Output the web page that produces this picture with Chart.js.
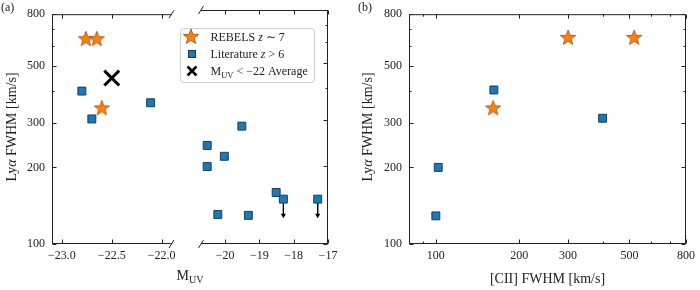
<!DOCTYPE html>
<html lang="en">
<head>
<meta charset="utf-8">
<title>Lya FWHM vs M_UV and [CII] FWHM</title>
<script src="https://cdn.jsdelivr.net/npm/chart.js@4.4.1/dist/chart.umd.min.js"></script>
<style>
    body { margin: 0; background: #fff; }
    #figure { position: relative; width: 700px; height: 290px; overflow: hidden; }
    #figure canvas { position: absolute; top: 0; }
</style>
</head>
<body>
<div id="figure">
    <canvas id="panelA1" width="185" height="290" style="left:0"></canvas>
    <canvas id="panelA2" width="180" height="290" style="left:170px"></canvas>
    <canvas id="panelB" width="350" height="290" style="left:350px"></canvas>
</div>
<script>
// ========================
// Data
// ========================

// (a) Lya FWHM vs M_UV
const rebelsMuv = [-22.76, -22.65, -22.60];
const rebelsLyaA = [638, 638, 341];
const averageMuv = [-22.50];
const averageLya = [449];
const litMuv = [-22.80, -22.70, -22.11, -20.52, -20.52, -20.02, -20.21, -19.51, -19.32, -18.51];
const litLyaA = [399, 310, 359, 240, 199, 218, 130, 285, 129, 158];
const upperMuv = [-18.30, -17.30];
const upperLya = [149, 149];
const upperArrowTo = [129, 129];

// (b) Lya FWHM vs [CII] FWHM
const rebelsCii = [161, 300, 520];
const rebelsLyaB = [341, 645, 645];
const litCii = [100, 102, 162, 400];
const litLyaB = [129, 200, 403, 312];

// axis ticks
const lyaTicks = [100, 200, 300, 500, 800];
const lyaMinorTicks = [400, 600, 700];
const muvTicksBright = [-23.0, -22.5, -22.0];
const muvTicksFaint = [-20, -19, -18, -17];
const ciiTicks = [100, 200, 300, 500, 800];
const ciiMinorTicks = [90, 400, 600, 700];

// ========================
// Helpers
// ========================
const SERIF = "'Liberation Serif', 'Times New Roman', serif";
const INK = '#222222';
const ORANGE = '#ff7f0e';
const BLUE = '#1f77b4';
const BLUE_EDGE = '#163f5f';

Chart.defaults.font.family = SERIF;
Chart.defaults.color = INK;

const tickFont = { family: SERIF, size: 12 };
const pairs = (xs, ys) => xs.map((x, i) => ({ x: x, y: ys[i] }));
const inRange = (pts, lo, hi) => pts.filter(p => p.x >= lo && p.x <= hi);
const minus = (v, d) => (v < 0 ? '\u2212' : '') + Math.abs(v).toFixed(d);

// filled five-point star, used as pointStyle
function starMarker(size) {
    const c = document.createElement('canvas');
    c.width = c.height = size;
    const ctx = c.getContext('2d');
    const r = size / 2 - 1, ri = r * 0.42, cx = size / 2, cy = size / 2;
    ctx.beginPath();
    for (let i = 0; i < 10; i++) {
        const ang = -Math.PI / 2 + i * Math.PI / 5;
        const rr = i % 2 ? ri : r;
        ctx.lineTo(cx + rr * Math.cos(ang), cy + rr * Math.sin(ang));
    }
    ctx.closePath();
    ctx.fillStyle = ORANGE;
    ctx.fill();
    ctx.strokeStyle = '#9a4f0c';
    ctx.lineWidth = 0.8;
    ctx.stroke();
    return c;
}
const starImg = starMarker(18);

function setFont(ctx, size, italic) {
    ctx.font = (italic ? 'italic ' : '') + size + 'px ' + SERIF;
}

// text pieces: [text, size, italic, dy]
function drawRuns(ctx, x, y, runs, center) {
    const widths = runs.map(r => { setFont(ctx, r[1], r[2]); return ctx.measureText(r[0]).width; });
    let cx = center ? x - widths.reduce((a, b) => a + b, 0) / 2 : x;
    ctx.textAlign = 'left';
    ctx.textBaseline = 'alphabetic';
    runs.forEach((r, i) => {
        setFont(ctx, r[1], r[2]);
        ctx.fillText(r[0], cx, y + (r[3] || 0));
        cx += widths[i];
    });
}

const lyaTitle = [['Ly', 14], ['\u03b1', 14, true], [' FWHM [km/s]', 14]];

// spines, inward ticks and axis break marks
function frame(cfg) {
    return {
        id: 'frame',
        afterDatasetsDraw(chart) {
            const { ctx, chartArea: a } = chart;
            const xs = chart.scales.x, ys = chart.scales.y;
            const L = a.left + 0.5, R = a.right - 0.5, T = a.top + 0.5, B = a.bottom - 0.5;
            ctx.save();
            ctx.strokeStyle = INK;
            ctx.lineWidth = 1;
            ctx.beginPath();
            if (cfg.spines.includes('left')) { ctx.moveTo(L, T); ctx.lineTo(L, B); }
            if (cfg.spines.includes('right')) { ctx.moveTo(R, T); ctx.lineTo(R, B); }
            if (cfg.spines.includes('top')) { ctx.moveTo(a.left, T); ctx.lineTo(a.right, T); }
            if (cfg.spines.includes('bottom')) { ctx.moveTo(a.left, B); ctx.lineTo(a.right, B); }

            const tick = (side, p, len) => {
                if (side === 'bottom') { ctx.moveTo(p, B); ctx.lineTo(p, B - len); }
                if (side === 'top') { ctx.moveTo(p, T); ctx.lineTo(p, T + len); }
                if (side === 'left') { ctx.moveTo(L, p); ctx.lineTo(L + len, p); }
                if (side === 'right') { ctx.moveTo(R, p); ctx.lineTo(R - len, p); }
            };
            cfg.spines.forEach(side => {
                const horiz = side === 'top' || side === 'bottom';
                const scale = horiz ? xs : ys;
                const major = horiz ? cfg.xMajor : cfg.yMajor;
                const minor = (horiz ? cfg.xMinor : cfg.yMinor) || [];
                const px = v => Math.round(scale.getPixelForValue(v)) + 0.5;
                major.forEach(v => tick(side, px(v), 4));
                minor.forEach(v => tick(side, px(v), 2));
            });

            if (cfg.breakSide) {
                const bx = cfg.breakSide === 'right' ? a.right : a.left;
                [a.top, a.bottom].forEach(by => {
                    ctx.moveTo(bx - 2.5, by + 4);
                    ctx.lineTo(bx + 2.5, by - 4);
                });
            }
            ctx.stroke();
            ctx.restore();
        }
    };
}

function xLinear(min, max, ticks, digits) {
    return {
        type: 'linear', min: min, max: max,
        grid: { display: false, drawTicks: false },
        border: { display: false },
        afterBuildTicks: s => { s.ticks = ticks.map(v => ({ value: v })); },
        afterFit: s => { s.height = 46; },
        ticks: { font: tickFont, color: INK, padding: 5, maxRotation: 0, autoSkip: false,
                 callback: v => minus(v, digits) }
    };
}

function logAxis(min, max, ticks, horizontal, width) {
    return {
        type: 'logarithmic', min: min, max: max, bounds: 'data',
        display: width !== 0,
        grid: { display: false, drawTicks: false },
        border: { display: false },
        afterBuildTicks: s => { s.ticks = ticks.map(v => ({ value: v })); },
        afterFit: s => {
            if (horizontal) s.height = 46;
            else if (width) s.width = width;
        },
        ticks: { font: tickFont, color: INK, padding: horizontal ? 5 : 7, maxRotation: 0,
                 autoSkip: false, callback: v => String(v) }
    };
}

function baseOptions(x, y, padding) {
    return {
        responsive: false,
        animation: false,
        events: [],
        layout: { padding: padding },
        plugins: { legend: { display: false }, tooltip: { enabled: false } },
        scales: { x: x, y: y }
    };
}

const starSet = data => ({ data: data, pointStyle: starImg, pointRadius: 8 });
const squareSet = data => ({
    data: data, pointStyle: 'rect', pointRadius: 5.6,
    backgroundColor: BLUE, borderColor: BLUE_EDGE, borderWidth: 1
});
const arrowSets = () => upperMuv.map((x, i) => ({
    data: [{ x: x, y: upperLya[i] }, { x: x, y: upperArrowTo[i] }],
    showLine: true,
    borderColor: '#000', borderWidth: 1,
    backgroundColor: '#000',
    pointStyle: 'triangle', pointRotation: 180,
    pointRadius: [0, 3], pointBorderWidth: 0
}));

// ========================
// Panel (a), bright side
// ========================
const brightMin = -23.1, brightMax = -21.9;
new Chart(document.getElementById('panelA1'), {
    type: 'scatter',
    data: {
        datasets: [
            starSet(pairs(rebelsMuv, rebelsLyaA)),
            {
                data: pairs(averageMuv, averageLya),
                pointStyle: 'crossRot', pointRadius: 10.5,
                borderColor: '#000', borderWidth: 3
            },
            squareSet(inRange(pairs(litMuv, litLyaA), brightMin, brightMax))
        ]
    },
    options: baseOptions(
        xLinear(brightMin, brightMax, muvTicksBright, 1),
        logAxis(100, 800, lyaTicks, false, 52),
        { left: 0, right: 7, top: 10, bottom: 0 }
    ),
    plugins: [
        frame({ spines: ['left', 'top', 'bottom'], breakSide: 'right',
                xMajor: muvTicksBright, yMajor: lyaTicks, yMinor: lyaMinorTicks }),
        {
            id: 'textA1',
            afterDraw(chart) {
                const ctx = chart.ctx;
                ctx.save();
                ctx.fillStyle = INK;
                drawRuns(ctx, 1, 11, [['(a)', 12]]);
                ctx.translate(15.5, 127);
                ctx.rotate(-Math.PI / 2);
                drawRuns(ctx, 0, 0, lyaTitle, true);
                ctx.restore();
            }
        }
    ]
});

// ========================
// Panel (a), faint side
// ========================
const faintMin = -20.7, faintMax = -17;
new Chart(document.getElementById('panelA2'), {
    type: 'scatter',
    data: {
        datasets: [
            squareSet(inRange(pairs(litMuv, litLyaA), faintMin, faintMax)
                .concat(pairs(upperMuv, upperLya))),
            ...arrowSets()
        ]
    },
    options: baseOptions(
        xLinear(faintMin, faintMax, muvTicksFaint, 0),
        logAxis(100, 800, lyaTicks, false, 0),
        { left: 31, right: 22, top: 10, bottom: 0 }
    ),
    plugins: [
        frame({ spines: ['right', 'top', 'bottom'], breakSide: 'left',
                xMajor: muvTicksFaint, yMajor: lyaTicks, yMinor: lyaMinorTicks }),
        {
            id: 'textA2',
            afterDraw(chart) {
                const ctx = chart.ctx;
                ctx.save();
                ctx.fillStyle = INK;
                // x title
                drawRuns(ctx, 20, 280, [['M', 14], ['UV', 10, false, 3]], true);

                // legend
                ctx.beginPath();
                ctx.roundRect(10.5, 28.5, 134, 54, 3);
                ctx.fillStyle = 'rgba(255,255,255,0.8)';
                ctx.fill();
                ctx.strokeStyle = '#d0d0d0';
                ctx.lineWidth = 1;
                ctx.stroke();

                ctx.drawImage(starImg, 21 - 9, 37 - 9);
                ctx.fillStyle = BLUE;
                ctx.fillRect(18.5, 50.5, 7, 7);
                ctx.strokeStyle = BLUE_EDGE;
                ctx.strokeRect(18.5, 50.5, 7, 7);
                ctx.beginPath();
                ctx.strokeStyle = '#000';
                ctx.lineWidth = 2.6;
                ctx.moveTo(17.5, 66.5); ctx.lineTo(26.5, 75.5);
                ctx.moveTo(26.5, 66.5); ctx.lineTo(17.5, 75.5);
                ctx.stroke();

                ctx.fillStyle = INK;
                drawRuns(ctx, 40.5, 41, [['REBELS ', 12], ['z', 12, true], [' \u223c 7', 12]]);
                drawRuns(ctx, 40.5, 58, [['Literature ', 12], ['z', 12, true], [' > 6', 12]]);
                drawRuns(ctx, 40.5, 75, [['M', 12], ['UV', 8.5, false, 2.5], [' < \u221222 Average', 12]]);
                ctx.restore();
            }
        }
    ]
});

// ========================
// Panel (b)
// ========================
new Chart(document.getElementById('panelB'), {
    type: 'scatter',
    data: {
        datasets: [
            starSet(pairs(rebelsCii, rebelsLyaB)),
            squareSet(pairs(litCii, litLyaB))
        ]
    },
    options: baseOptions(
        logAxis(80, 800, ciiTicks, true),
        logAxis(100, 800, lyaTicks, false, 59),
        { left: 0, right: 14, top: 10, bottom: 0 }
    ),
    plugins: [
        frame({ spines: ['left', 'right', 'top', 'bottom'],
                xMajor: ciiTicks, xMinor: ciiMinorTicks, yMajor: lyaTicks, yMinor: lyaMinorTicks }),
        {
            id: 'textB',
            afterDraw(chart) {
                const ctx = chart.ctx;
                ctx.save();
                ctx.fillStyle = INK;
                drawRuns(ctx, 8, 11, [['(b)', 12]]);
                drawRuns(ctx, 197.5, 283, [['[CII] FWHM [km/s]', 14]], true);
                ctx.translate(22, 127);
                ctx.rotate(-Math.PI / 2);
                drawRuns(ctx, 0, 0, lyaTitle, true);
                ctx.restore();
            }
        }
    ]
});
</script>
</body>
</html>
